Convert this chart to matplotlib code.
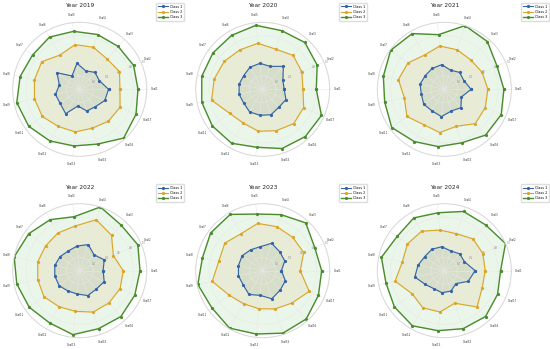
import numpy as np
import matplotlib
matplotlib.use("Agg")
import matplotlib.pyplot as plt

goals = ["Goal1", "Goal2", "Goal3", "Goal4", "Goal5", "Goal6", "Goal7", "Goal8",
         "Goal9", "Goal11", "Goal12", "Goal13", "Goal15", "Goal16", "Goal17"]
years = [2019, 2020, 2021, 2022, 2023, 2024]
class_names = ["Class 1", "Class 2", "Class 3"]

# one row per year, values in goal order
class1 = [
    [0.43, 0.32, 0.34, 0.29, 0.39, 0.23, 0.42, 0.31, 0.37, 0.36, 0.42, 0.25, 0.34, 0.35, 0.41],
    [0.32, 0.33, 0.46, 0.36, 0.39, 0.38, 0.35, 0.36, 0.36, 0.35, 0.39, 0.39, 0.40, 0.36, 0.38],
    [0.40, 0.32, 0.34, 0.30, 0.37, 0.36, 0.35, 0.37, 0.35, 0.38, 0.37, 0.41, 0.34, 0.37, 0.28],
    [0.35, 0.40, 0.32, 0.41, 0.37, 0.34, 0.36, 0.38, 0.38, 0.38, 0.35, 0.35, 0.39, 0.37, 0.40],
    [0.28, 0.36, 0.38, 0.43, 0.36, 0.36, 0.38, 0.37, 0.37, 0.36, 0.41, 0.37, 0.44, 0.39, 0.37],
    [0.46, 0.33, 0.34, 0.31, 0.36, 0.37, 0.36, 0.40, 0.45, 0.35, 0.31, 0.33, 0.32, 0.26, 0.39],
]
class2 = [
    [0.60, 0.65, 0.61, 0.66, 0.67, 0.59, 0.70, 0.69, 0.69, 0.69, 0.64, 0.64, 0.61, 0.64, 0.66],
    [0.60, 0.64, 0.68, 0.63, 0.69, 0.68, 0.71, 0.74, 0.78, 0.61, 0.58, 0.63, 0.65, 0.69, 0.67],
    [0.65, 0.62, 0.59, 0.62, 0.65, 0.59, 0.67, 0.70, 0.61, 0.69, 0.61, 0.65, 0.58, 0.69, 0.67],
    [0.65, 0.55, 0.71, 0.80, 0.67, 0.65, 0.63, 0.64, 0.64, 0.66, 0.62, 0.61, 0.65, 0.65, 0.66],
    [0.56, 0.67, 0.67, 0.69, 0.71, 0.64, 0.70, 0.67, 0.77, 0.62, 0.57, 0.57, 0.60, 0.65, 0.76],
    [0.61, 0.63, 0.64, 0.58, 0.61, 0.68, 0.68, 0.64, 0.75, 0.59, 0.64, 0.62, 0.51, 0.73, 0.62],
]
class3 = [
    [0.87, 0.88, 0.86, 0.86, 0.87, 0.90, 0.87, 0.91, 0.96, 0.94, 0.89, 0.85, 0.86, 0.98, 0.92],
    [0.80, 0.89, 0.94, 0.92, 0.96, 0.93, 0.92, 0.93, 0.93, 0.93, 0.93, 0.87, 0.93, 0.95, 0.96],
    [0.89, 0.86, 0.96, 1.00, 0.82, 0.96, 0.99, 0.93, 0.91, 0.97, 0.90, 0.86, 0.84, 0.92, 0.93],
    [0.90, 0.95, 0.92, 1.00, 0.81, 0.88, 0.94, 1.00, 0.96, 0.93, 0.90, 0.96, 0.91, 0.92, 0.90],
    [0.88, 0.85, 0.96, 0.88, 0.85, 0.97, 0.96, 0.92, 0.99, 0.94, 0.99, 0.95, 0.98, 0.97, 0.91],
    [0.84, 1.00, 0.92, 0.93, 0.87, 0.91, 0.87, 0.96, 0.89, 0.92, 0.95, 0.90, 0.91, 0.92, 0.87],
]
rticks = [0.2, 0.4, 0.6, 0.8, 1.0]

colors = ["#3563a6", "#dba628", "#4a8c2e"]
fills = ["#6f8fb0", "#f0c070", "#8fd08a"]

angles = np.linspace(0, 2 * np.pi, len(goals), endpoint=False)
angles_closed = np.concatenate([angles, angles[:1]])

fig = plt.figure(figsize=(5.5, 3.49), dpi=100)

W, H = 550, 349
R = 67
centers_x = [79.7, 262.7, 444.3]
centers_y = [89.3, 270.7]

for i, year in enumerate(years):
    cx = centers_x[i % 3]
    cy = centers_y[i // 3]
    rect = [(cx - R) / W, (H - cy - R) / H, 2 * R / W, 2 * R / H]
    ax = fig.add_axes(rect, projection="polar")

    for k, series in enumerate([class1[i], class2[i], class3[i]]):
        vals = np.concatenate([series, series[:1]])
        ax.plot(angles_closed, vals, color=colors[k], lw=0.8 if k < 2 else 1.0,
                marker="o", markersize=1.3, label=class_names[k])
        ax.fill(angles_closed, vals, color=fills[k], alpha=0.18)

    ax.set_ylim(0, 1.0)
    ax.set_xticks(angles)
    ax.set_xticklabels(goals, fontsize=1.9, color="#333333")
    ax.tick_params(axis="x", length=0, pad=-1.5)
    ax.set_yticks(rticks)
    ax.set_yticklabels([f"{t:.1f}" for t in rticks], fontsize=1.8, color="#888888")
    ax.set_rlabel_position(22.5)
    ax.grid(color="#e8e8e8", lw=0.4)
    ax.spines["polar"].set_color("#d8d8d8")
    ax.spines["polar"].set_linewidth(0.7)

    ax.text(0.5, 1 + 16.6 / (2 * R), f"Year {year}", transform=ax.transAxes,
            ha="center", va="center", fontsize=4.2, color="#222222")
    ax.legend(loc="upper right", bbox_to_anchor=(1.278, 1.145), borderaxespad=0,
              fontsize=2.4, labelspacing=0.35, handlelength=3.0, handletextpad=0.6,
              borderpad=0.5, frameon=True, edgecolor="#dddddd", framealpha=1)

fig.savefig("out.png", dpi=100)
